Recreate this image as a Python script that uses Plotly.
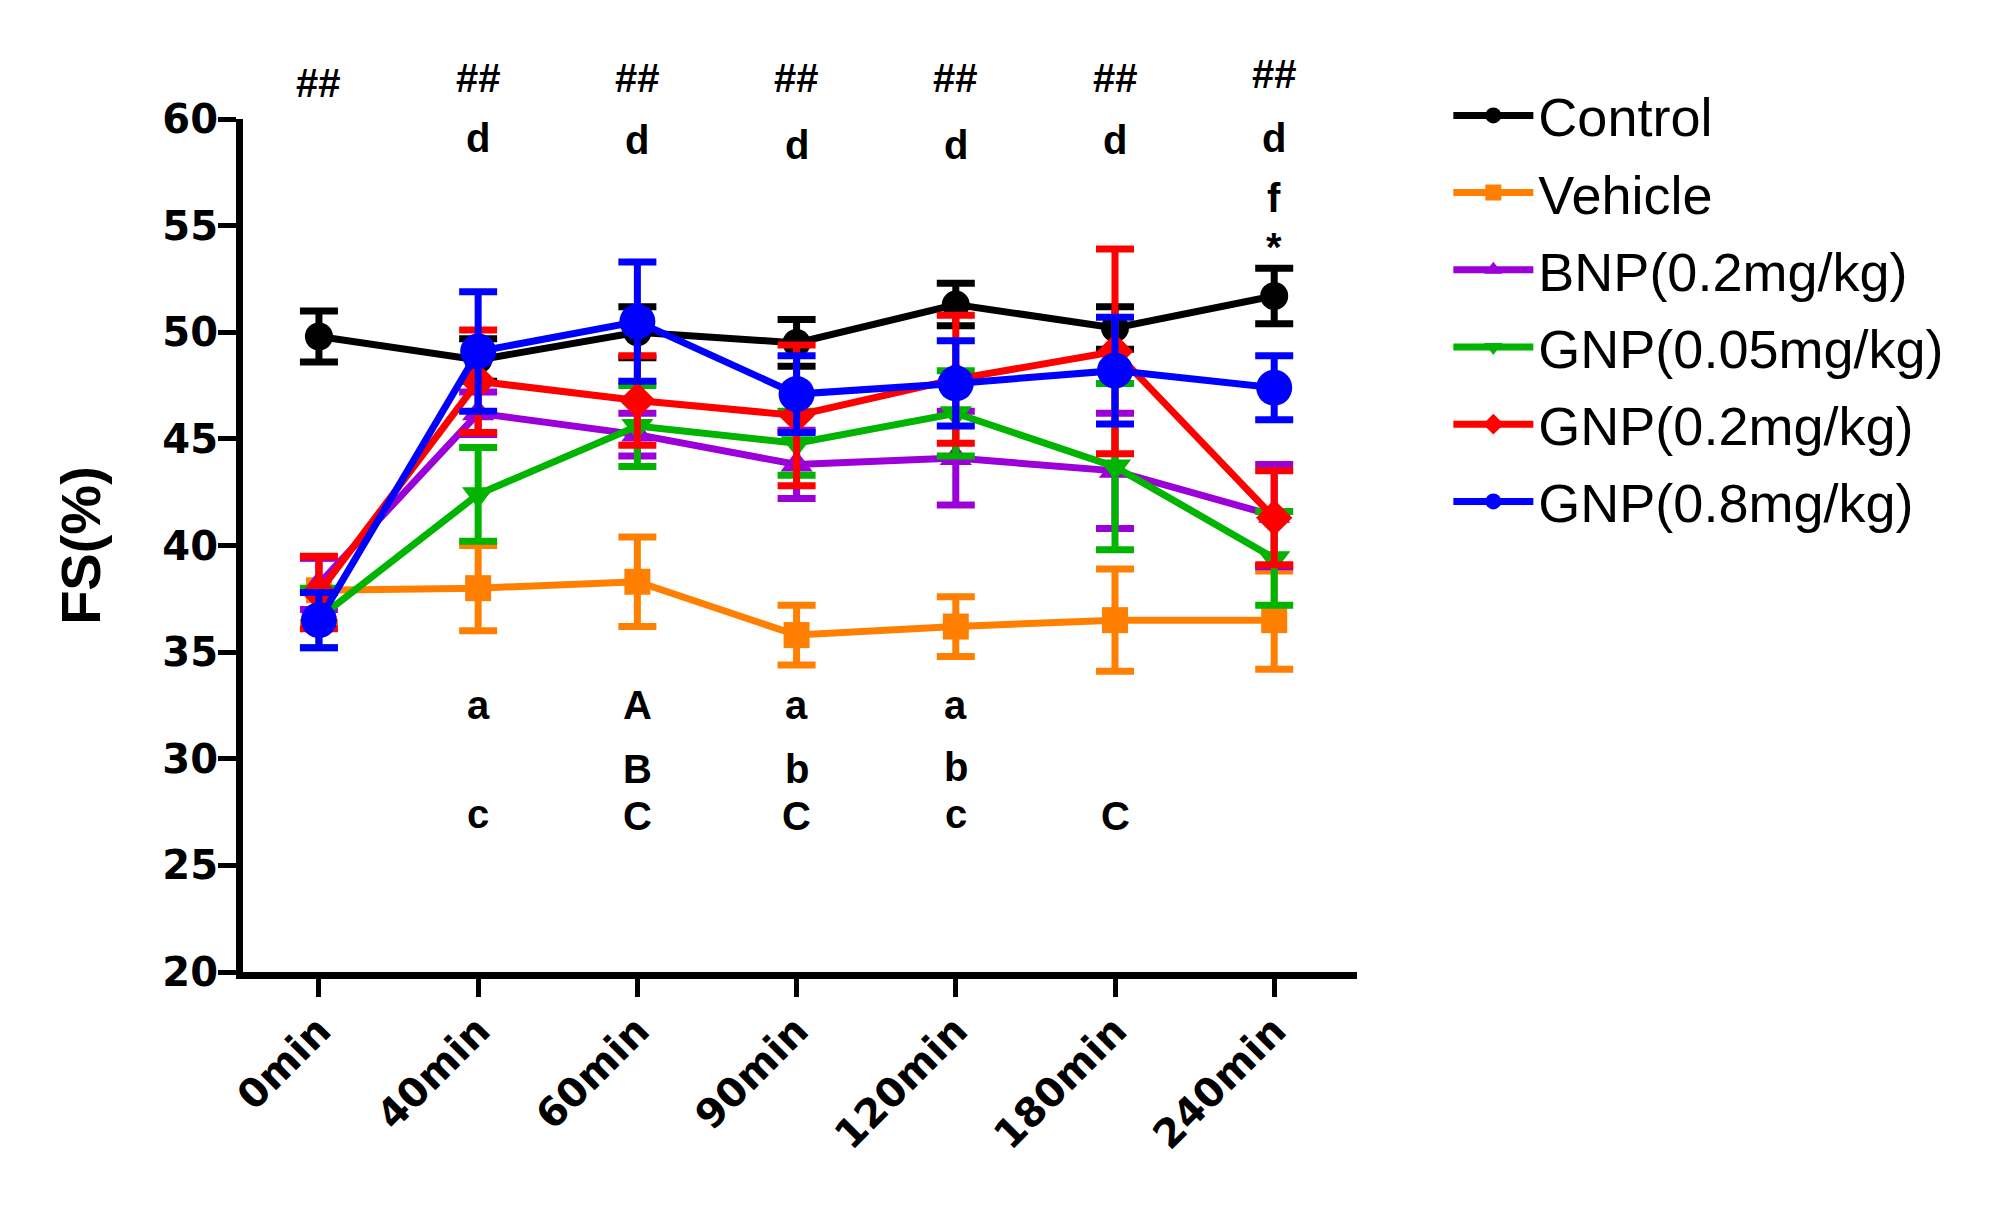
import plotly.graph_objects as go

categories = ["0min", "40min", "60min", "90min", "120min", "180min", "240min"]

control_mean = [49.8, 48.7, 50.0, 49.5, 51.3, 50.2, 51.7]
control_se = [1.2, 1.0, 1.2, 1.1, 1.0, 1.0, 1.3]

vehicle_mean = [37.9, 38.0, 38.3, 35.8, 36.2, 36.5, 36.5]
vehicle_se = [1.5, 2.0, 2.1, 1.4, 1.4, 2.4, 2.3]

bnp_mean = [38.2, 46.2, 45.2, 43.8, 44.1, 43.5, 41.4]
bnp_se = [1.2, 1.0, 1.0, 1.6, 2.2, 2.7, 2.4]

gnp005_mean = [36.6, 42.4, 45.6, 44.8, 46.2, 43.7, 39.4]
gnp005_se = [1.4, 2.2, 1.9, 1.5, 2.0, 3.9, 2.2]

gnp02_mean = [37.8, 47.7, 46.8, 46.1, 47.8, 49.1, 41.3]
gnp02_se = [1.7, 2.4, 2.1, 3.3, 3.0, 4.8, 2.2]

gnp08_mean = [36.5, 49.1, 50.5, 47.1, 47.6, 48.2, 47.4]
gnp08_se = [1.3, 2.8, 2.8, 1.8, 2.0, 2.5, 1.5]

series_names = ["Control", "Vehicle", "BNP(0.2mg/kg)", "GNP(0.05mg/kg)",
                "GNP(0.2mg/kg)", "GNP(0.8mg/kg)"]

# significance labels: (category, y value, text)
hash_labels = [("0min", 61.7, "##"), ("40min", 61.9, "##"), ("60min", 61.9, "##"),
               ("90min", 61.9, "##"), ("120min", 61.9, "##"), ("180min", 61.9, "##"),
               ("240min", 62.1, "##")]
sig_labels = [("40min", 59.1, "d"), ("60min", 59.0, "d"), ("90min", 58.8, "d"),
              ("120min", 58.8, "d"), ("180min", 59.0, "d"), ("240min", 59.1, "d"),
              ("240min", 56.3, "f"), ("240min", 54.0, "*"),
              ("40min", 32.5, "a"), ("60min", 32.5, "A"), ("90min", 32.5, "a"),
              ("120min", 32.5, "a"),
              ("60min", 29.5, "B"), ("90min", 29.5, "b"), ("120min", 29.6, "b"),
              ("40min", 27.4, "c"), ("60min", 27.3, "C"), ("90min", 27.3, "C"),
              ("120min", 27.4, "c"), ("180min", 27.3, "C")]

y_min, y_max = 20, 60

means = [control_mean, vehicle_mean, bnp_mean, gnp005_mean, gnp02_mean, gnp08_mean]
ses = [control_se, vehicle_se, bnp_se, gnp005_se, gnp02_se, gnp08_se]
colors = ["#000000", "#FF8000", "#9B00D9", "#00B400", "#FF0000", "#0000FF"]
symbols = ["circle", "square", "triangle-up", "triangle-down", "diamond", "circle"]
sizes = [28, 26, 28, 28, 28, 36]

fig = go.Figure()
for i, name in enumerate(series_names):
    fig.add_trace(go.Scatter(
        x=categories, y=means[i], name=name, mode="lines+markers",
        legendgroup=name,
        line=dict(color=colors[i], width=7),
        marker=dict(color=colors[i], symbol=symbols[i], size=sizes[i]),
        error_y=dict(type="data", array=ses[i], visible=True,
                     color=colors[i], thickness=7, width=19),
        cliponaxis=False,
    ))

annots = []
for cat, yv, txt in hash_labels:
    annots.append(dict(x=cat, y=(yv - y_min) / (y_max - y_min), xref="x", yref="paper",
                       text="<b>" + txt + "</b>", showarrow=False,
                       xanchor="center", yanchor="middle",
                       font=dict(family="Liberation Sans", size=40, color="black")))
for cat, yv, txt in sig_labels:
    annots.append(dict(x=cat, y=yv, xref="x", yref="y", text="<b>" + txt + "</b>",
                       showarrow=False, xanchor="center", yanchor="middle",
                       font=dict(family="Liberation Sans", size=40, color="black")))
annots.append(dict(x=-0.146, y=0.5, xref="paper", yref="paper", text="<b>FS(%)</b>",
                   textangle=-90, showarrow=False, xanchor="center", yanchor="middle",
                   font=dict(family="Liberation Sans", size=56, color="black")))

fig.update_layout(
    width=2002, height=1220,
    paper_bgcolor="white", plot_bgcolor="white",
    margin=dict(l=235, r=653, t=111, b=256, autoexpand=False),
    showlegend=True,
    legend=dict(x=1.082, y=1.053, xanchor="left", yanchor="top",
                traceorder="grouped", tracegroupgap=4, itemwidth=80,
                font=dict(family="Liberation Sans", size=54, color="black"),
                bgcolor="rgba(0,0,0,0)"),
    annotations=annots,
    xaxis=dict(type="category", range=[-0.477, 6.52], showgrid=False, zeroline=False,
               showline=True, linecolor="black", linewidth=7,
               ticks="outside", ticklen=18, tickwidth=5, tickcolor="black",
               tickangle=-45, ticklabelstandoff=-6,
               tickfont=dict(family="DejaVu Sans", size=40, color="black", weight="bold")),
    yaxis=dict(range=[y_min, y_max], tickvals=[20, 25, 30, 35, 40, 45, 50, 55, 60],
               showgrid=False, zeroline=False,
               showline=True, linecolor="black", linewidth=7,
               ticks="outside", ticklen=18, tickwidth=5, tickcolor="black",
               ticklabelstandoff=-8,
               tickfont=dict(family="DejaVu Sans", size=40, color="black", weight="bold")),
)

fig.write_html("out.html")
